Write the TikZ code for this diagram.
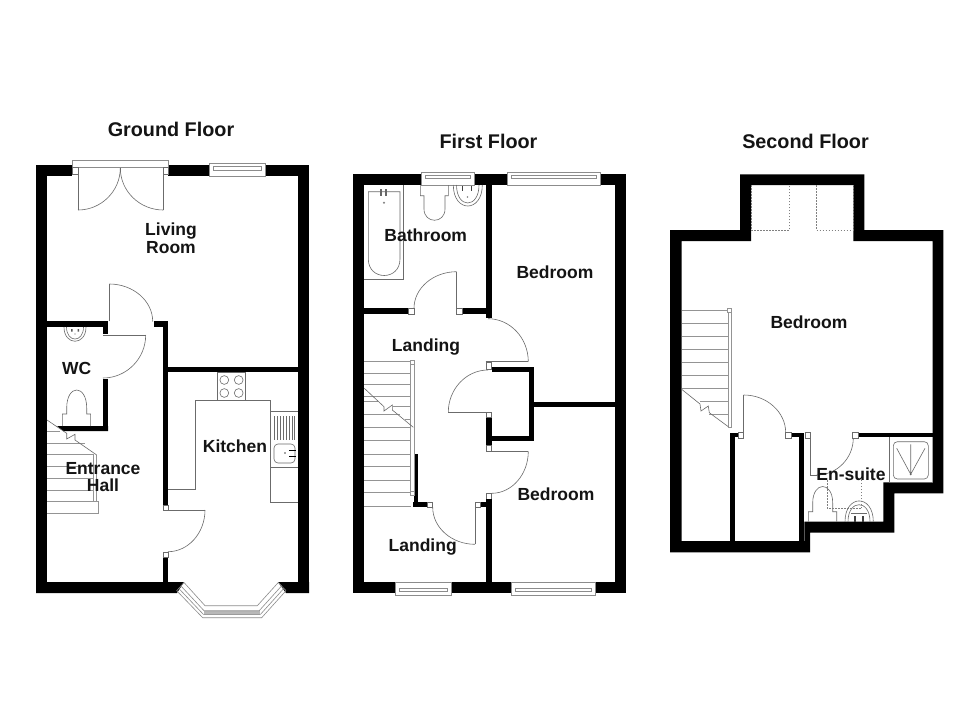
\documentclass[tikz,border=0pt]{standalone}
\usepackage{fontspec}
\setmainfont{Liberation Sans}
\newcommand\wl[4]{\fill[black] (#1,#2) rectangle (#3,#4);}
\newcommand\jamb[4]{\draw[fixline,fill=white] (#1,#2) rectangle (#3,#4);}
\newcommand\doorarc[4]{\draw[fixline] (#1,#2) .. controls ({#1+0.55*(#3-#1)},#2) and (#3,{#4-0.55*(#4-#2)}) .. (#3,#4);}
\newcommand\hwin[5]{% x1 x2 ytop ybot inner-offset
  \draw[winline,fill=white] (#1,#3) rectangle (#2,#4);
  \draw[winline] ({#1+4},{#3+#5}) rectangle ({#2-4},{#3+#5+3.6});
}
\begin{document}
\begin{tikzpicture}[x=1pt,y=-1pt,
  fixline/.style={draw=black!58,line width=0.6pt},
  winline/.style={draw=black!45,line width=0.6pt},
  tread/.style={draw=black!42,line width=0.7pt},
  roof/.style={draw=black!50,line width=0.6pt,dash pattern=on 1.5pt off 1.5pt},
  lbl/.style={font=\fontsize{17.5}{17.6}\selectfont\bfseries,align=center,inner sep=0pt,text=black!92},
  ttl/.style={font=\fontsize{19.8}{21}\selectfont\bfseries,align=center,inner sep=0pt,text=black!92}]
\useasboundingbox (0,0) rectangle (980,712);
\fill[white] (0,0) rectangle (980,712);

% ===== GROUND FLOOR =====
\wl{36}{165}{47}{593}
\wl{298}{165}{309}{593}
\wl{36}{165}{72}{176}
\wl{168}{165}{209}{176}
\wl{265}{165}{309}{176}
\fill[black] (36,582) -- (184,582) -- (177,593) -- (36,593) -- cycle;
\fill[black] (278,582) -- (309,582) -- (309,593) -- (286,593) -- cycle;
\wl{47}{321}{108}{327}
\wl{103}{327}{108}{334}
\wl{154}{321}{168}{327}
\wl{163}{321}{168}{505}
\wl{163}{557}{168}{582}
\wl{168}{367}{298}{372}
\wl{103}{379}{108}{431}
\fill[black] (57,426) -- (108,426) -- (108,431) -- (63,431) -- cycle;
% french doors
\draw[winline,fill=white] (72,160) rectangle (168,167.7);
\jamb{72}{167.7}{78}{174}
\jamb{163}{167.7}{168}{174}
\draw[fixline] (120.3,167.7) -- (120.3,172);
\draw[fixline] (78,168) -- (78,210);
\draw[fixline] (163.3,168) -- (163.3,210);
\doorarc{78}{210}{120.3}{168}
\doorarc{163.3}{210}{120.3}{168}
\hwin{209}{265}{163.3}{176}{3.4}
% internal doors
\draw[fixline] (109.3,321) -- (109.3,284);
\doorarc{109.3}{284}{152.7}{321.5}
\draw[fixline] (103,335) -- (145.7,335);
\doorarc{103}{378}{145.7}{335}
\jamb{163}{505}{168}{510}
\jamb{163}{552}{168}{557}
\draw[fixline] (168,510) -- (205,510);
\doorarc{168}{551.7}{205}{510}
% hob
\draw[fixline] (217.7,372) rectangle (245.7,400.3);
\foreach \cx in {224.3,238.7}\foreach \cy in {380,393}{\draw[fixline] (\cx,\cy) circle (4.4);}
% units
\draw[fixline] (168,489.3) -- (195.7,489.3) -- (195.7,400.3) -- (270.3,400.3) -- (270.3,502) -- (298,502);
\draw[fixline] (270.3,411.7) -- (298,411.7);
\draw[fixline] (270.3,467.7) -- (298,467.7);
\foreach \rx in {274,277,280,283,286,289,292,294.5}{\draw[fixline] (\rx,416) -- (\rx,440);}
\draw[fixline,rounded corners=4pt] (274,444) rectangle (295,463);
\draw[black,line width=1pt] (289,450.5) -- (296,450.5) (289,456.5) -- (296,456.5);
\fill[black!70] (285,453) circle (0.8);
% bay
\fill[black!28] (204.3,611) rectangle (260,615);
\foreach \t in {0,0.42,0.72,1}{
 \draw[winline] ({184-7.3*\t},{582.5+8.2*\t}) -- ({205-2.3*\t},{605.7+12*\t}) -- ({257.3+4.4*\t},{605.7+12*\t}) -- ({278.3+7.7*\t},{582.5+8.2*\t});
}
\draw[winline] (184,582.5) -- (176.7,590.7) (278.3,582.5) -- (286,590.7);
% WC basin + pan
\draw[fixline] (64,327) .. controls (64,346) and (86,346) .. (86,327);
\draw[fixline] (66.5,327) .. controls (66.5,343) and (83.5,343) .. (83.5,327);
\fill[black!65] (71,329) rectangle (72.5,331.5) (77.5,329) rectangle (79,331.5);
\fill[black!60] (75,334) circle (0.6);
\draw[fixline] (62.3,426) -- (62.3,414) -- (66.7,414) -- (66.7,408) .. controls (66.7,384) and (86.7,384) .. (86.7,408) -- (86.7,414) -- (90.6,414) -- (90.6,426);
% stairs
\foreach \sy in {454.3,466.7,478.3,490,501.7}{\draw[tread] (47,\sy) -- (93.3,\sy);}
\draw[tread] (47,431) -- (60,431);
\draw[tread] (47,443.3) -- (85,443.3);
\draw[tread] (47,513.3) -- (98.3,513.3) -- (98.3,501.7) -- (93.3,501.7);
\draw[tread] (93.3,454.3) -- (93.3,502) (96.7,455) -- (96.7,502);
\draw[fixline] (47,420) -- (66.7,433.3) -- (66.7,439) -- (75,434.3) -- (75,440) -- (96.7,455);

% ===== FIRST FLOOR =====
\wl{353.3}{174.3}{364.3}{593.3}
\wl{615}{174.3}{626}{593.3}
\wl{353.3}{174.3}{421.7}{185}
\wl{474.3}{174.3}{507.7}{185}
\wl{600}{174.3}{626}{185}
\wl{353.3}{582.3}{395}{593.3}
\wl{451.7}{582.3}{511.7}{593.3}
\wl{595}{582.3}{626}{593.3}
\wl{485.7}{174.3}{491.7}{317.7}
\wl{364}{308.3}{408.3}{314}
\wl{462.3}{308.3}{491}{314}
\jamb{408.3}{308.3}{414}{314}
\jamb{456.7}{308.3}{462.3}{314}
\draw[fixline] (456.7,308.3) -- (456.7,271.7);
\doorarc{456.7}{271.7}{414}{308.3}
\doorarc{488}{318.7}{528.3}{361.7}
\draw[fixline] (485.7,361.7) -- (528.3,361.7);
\jamb{486}{362.3}{491.7}{369}
\wl{491.7}{367.3}{534.3}{372.3}
\wl{529.3}{367.3}{534.3}{441}
\wl{534}{402.3}{615}{407.3}
\wl{485.7}{435.7}{534.3}{441}
\wl{485.7}{417.7}{491.7}{445.7}
\jamb{486}{412.3}{491.7}{417.7}
\jamb{486}{445.7}{491.7}{451.3}
\doorarc{488}{370}{448.3}{412.3}
\draw[fixline] (448.3,412.3) -- (486,412.3);
\draw[fixline] (486,451.3) -- (528.3,451.3);
\doorarc{491.7}{493.3}{528.3}{451.3}
\jamb{486}{493.3}{491.7}{499}
\wl{485.7}{499}{491.7}{582.3}
\wl{480.7}{502.3}{485.7}{507.3}
\jamb{475}{502.3}{480.7}{507.3}
\draw[fixline] (475,507.3) -- (475,544.3);
\doorarc{475}{544.3}{432.7}{507.3}
\jamb{427.3}{502.3}{432.7}{507.3}
\wl{412.7}{502.3}{427.3}{507.3}
\wl{414}{454}{418.3}{507}
% stairs
\foreach \sy in {361,373,384.5,396,427.3,440.7,454,466.7,480,492.7,506}{\draw[tread] (364.3,\sy) -- (411,\sy);}
\draw[tread] (364.3,401) -- (378,401);
\draw[tread] (393,406.7) -- (411,406.7);
\draw[tread] (364.3,414.3) -- (400,414.3);
\draw[tread] (405,419) -- (411,419);
\draw[tread,fill=white] (410.7,360) rectangle (414,495);
\draw[tread] (410.7,364) -- (414,364) (410.7,491.7) -- (414,491.7);
\draw[fixline] (364.3,388.3) -- (384,406.7) -- (384,411) -- (392.3,405) -- (392.3,410) -- (413.3,427.3);
% windows
\hwin{421.7}{474.3}{172.3}{185}{2.7}
\hwin{507.7}{600}{172.3}{185}{2.7}
\hwin{395}{451.7}{582.3}{595.3}{5.7}
\hwin{511.7}{595}{582.3}{595.3}{5.7}
% bath
\draw[fixline] (364.3,279) -- (403.7,279) -- (403.7,185);
\draw[fixline] (368.3,191.7) -- (400,191.7) -- (400,259) .. controls (400,281) and (368.3,281) .. (368.3,259) -- cycle;
\draw[black!60,line width=1.2pt] (381,189) -- (381,196) (386,189) -- (386,196);
\fill[black!50] (384,202.7) circle (1.1);
% toilet
\draw[fixline] (420.3,185) -- (420.3,195.7) -- (424,195.7) -- (424,209) .. controls (424,224) and (445,224) .. (445,209) -- (445,195.7) -- (448.3,195.7) -- (448.3,185);
% basin
\draw[fixline] (453.3,185) .. controls (453.3,213) and (482.3,213) .. (482.3,185);
\draw[fixline] (456.5,185) .. controls (456.5,209) and (479,209) .. (479,185);
\draw[black!75,line width=1.2pt] (462.5,186) -- (462.5,191) (471.5,186) -- (471.5,191);
\fill[black!50] (467.5,197) circle (0.8);

% ===== SECOND FLOOR =====
\fill[black,even odd rule] (740,174.3) -- (864.3,174.3) -- (864.3,230) -- (943.3,230) -- (943.3,493.3) -- (894.3,493.3) -- (894.3,532.7) -- (810,532.7) -- (810,552.3) -- (670,552.3) -- (670,230) -- (740,230) -- cycle
 (681.7,241) -- (751,241) -- (751,185) -- (853.3,185) -- (853.3,241) -- (932.7,241) -- (932.7,482.3) -- (883.3,482.3) -- (883.3,521.7) -- (804.3,521.7) -- (804.3,541) -- (681.7,541) -- cycle;
\wl{858.3}{432.7}{932.7}{437.3}
\wl{730}{432.7}{735}{541}
\wl{730}{432.7}{738.3}{437.3}
\wl{791.7}{432.7}{804.3}{437.3}
\wl{799.3}{432.7}{804.3}{541}
\jamb{738.3}{432.7}{743.7}{438}
\jamb{785.7}{432.7}{791.7}{438}
\jamb{805}{432.7}{810.7}{438}
\jamb{852.3}{432.7}{858.3}{438}
\draw[fixline] (743.7,438) -- (743.7,395);
\doorarc{743.7}{395}{785.7}{432.7}
\draw[fixline] (810.7,438) -- (810.7,475) -- (816.7,475);
\doorarc{816.7}{475}{853.3}{438}
% rooflights
\draw[roof] (751,185) -- (751,230) -- (789.3,230) -- (789.3,185);
\draw[roof] (816.7,185) -- (816.7,230) -- (853.3,230) -- (853.3,185);
% stairs
\foreach \sy in {310,323.3,336.3,349.3,362.3,375.3,388.3}{\draw[tread] (681.7,\sy) -- (728.3,\sy);}
\draw[tread] (700,401.7) -- (728.3,401.7);
\draw[tread] (709.3,414.3) -- (728.3,414.3);
\draw[tread] (728.3,308) rectangle (731,427.7);
\draw[tread,fill=white] (727.5,308) rectangle (731.5,312);
\draw[fixline] (681.7,389.3) -- (700,404) -- (701,411) -- (708.3,406) -- (709.3,412.7) -- (728.3,426.7);
% shower
\draw[fixline] (889.3,437.3) -- (889.3,482.3) -- (932.7,482.3);
\draw[fixline,rounded corners=4pt] (893.3,441.7) rectangle (928.3,479);
\draw[fixline] (896.7,448.3) -- (910.7,474.3) -- (925,448.3) (910.7,444.3) -- (910.7,474.3);
\fill[black!60] (910.7,474.3) circle (1);
% toilet
\draw[fixline] (808.3,521.7) -- (808.3,511.7) -- (812.7,511.7) -- (812.7,503) .. controls (812.7,481) and (832.7,481) .. (832.7,503) -- (832.7,511.7) -- (836.7,511.7) -- (836.7,521.7);
% basin
\draw[fixline] (845,521.7) .. controls (845,494) and (873.3,494) .. (873.3,521.7);
\draw[fixline] (848,521.7) .. controls (848,499) and (870,499) .. (870,521.7);
\draw[black!75,line width=1.2pt] (855,516) -- (855,521.7) (863,516) -- (863,521.7);
\draw[fixline] (851,513) -- (867,513);
\draw[roof] (827.3,480) -- (827.3,508.3) -- (861.7,508.3) -- (861.7,480);

% ===== LABELS =====
\node[ttl] (tg) at (171,129) {Ground Floor};
\node[ttl] (tf) at (488.5,141) {First Floor};
\node[ttl] (ts) at (805.5,141) {Second Floor};
\node[lbl] (living) at (171,238.5) {Living\\Room};
\node[lbl] (wc) at (76.7,368) {WC};
\node[lbl] (hall) at (103,477) {Entrance\\Hall};
\node[lbl] (kit) at (235,446) {Kitchen};
\node[lbl] (bath) at (425.7,235.7) {Bathroom};
\node[lbl] (bed1) at (555,272.7) {Bedroom};
\node[lbl] (land1) at (426,346.7) {Landing};
\node[lbl] (bed2) at (556,494) {Bedroom};
\node[lbl] (land2) at (422.7,546.7) {Landing};
\node[lbl] (bed3) at (809,322.3) {Bedroom};
\node[lbl] (ens) at (851,474) {En-suite};
\end{tikzpicture}
\end{document}
